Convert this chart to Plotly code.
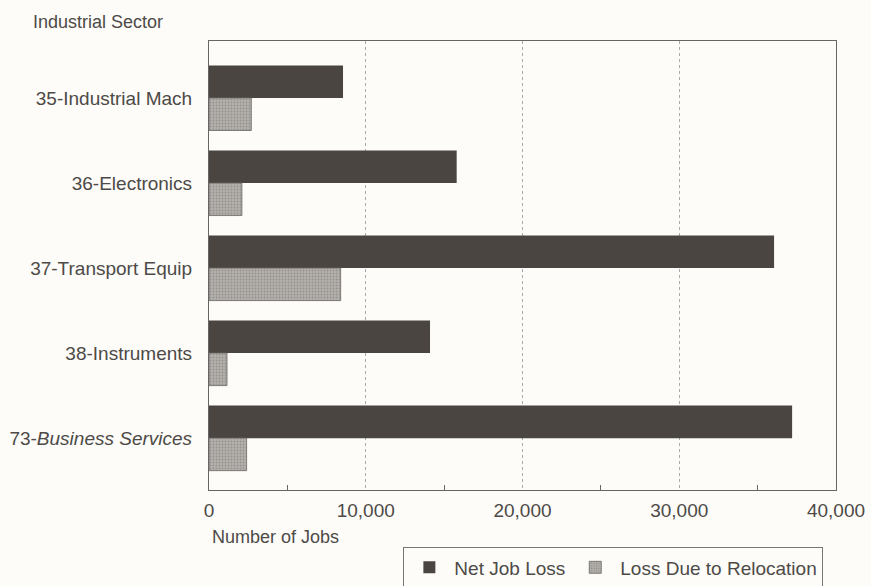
import plotly.graph_objects as go

sectors = ["35-Industrial Mach", "36-Electronics", "37-Transport Equip",
           "38-Instruments", "73-<i>Business Services</i>"]
net_job_loss = [8550, 15800, 36050, 14100, 37200]
loss_relocation = [2700, 2100, 8400, 1150, 2400]
x_ticks = [0, 10000, 20000, 30000, 40000]
x_tick_labels = ["0", "10,000", "20,000", "30,000", "40,000"]

txt = "#4d4a47"
FS = 19
fig = go.Figure()
fig.add_trace(go.Bar(
    y=sectors, x=net_job_loss, orientation="h", name="Net Job Loss",
    marker=dict(color="#4a4541", line=dict(width=0)),
))
fig.add_trace(go.Bar(
    y=sectors, x=loss_relocation, orientation="h", name="Loss Due to Relocation",
    marker=dict(color="#a7a4a0", line=dict(color="#6a6662", width=0.8),
                pattern=dict(shape=".", fgcolor="#76726e", bgcolor="#b3b0ac",
                             size=3, solidity=0.3)),
))

fig.update_layout(
    width=871, height=586,
    margin=dict(l=209, r=35, t=41, b=96, autoexpand=False),
    paper_bgcolor="#fdfcf9", plot_bgcolor="#fdfcf9",
    barmode="group", bargap=0.235, bargroupgap=0,
    font=dict(family="Liberation Sans, Arial, sans-serif", size=FS, color=txt),
    showlegend=True,
    legend=dict(orientation="h", x=0.310, y=-0.128, xanchor="left", yanchor="top",
                bordercolor="#777", borderwidth=1, bgcolor="#fdfcf9",
                font=dict(size=FS, color=txt), itemwidth=40,
                traceorder="normal"),
    xaxis=dict(range=[0, 40000], tickvals=x_ticks, ticktext=x_tick_labels,
               automargin=False,
               showgrid=True, gridcolor="#aaa", griddash="dot", gridwidth=1,
               showline=True, linecolor="#666", linewidth=1.2, mirror=True,
               ticks="", zeroline=False, ticklabelstandoff=3,
               minor=dict(tickvals=[5000, 15000, 25000, 35000], ticks="inside",
                          ticklen=5, tickcolor="#666", showgrid=False),
               tickfont=dict(size=FS, color=txt)),
    yaxis=dict(range=[4.61, -0.67], showgrid=False, showline=True,
               automargin=False,
               linecolor="#666", linewidth=1.2, mirror=True, ticks="",
               ticklabelstandoff=12, tickfont=dict(size=FS, color=txt)),
)

fig.add_annotation(text="Industrial Sector", xref="paper", yref="paper",
                   x=-209/627 + 31/627, y=1 + 19/449, xanchor="left", yanchor="middle",
                   showarrow=False, font=dict(size=FS - 1, color=txt))
fig.add_annotation(text="Number of Jobs", xref="paper", yref="paper",
                   x=1/627, y=-47/449, xanchor="left", yanchor="middle",
                   showarrow=False, font=dict(size=FS - 1, color=txt))

fig.write_html("out.html")
